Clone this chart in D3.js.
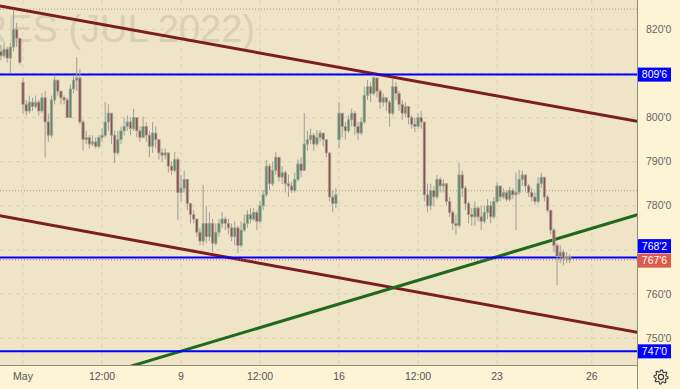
<!DOCTYPE html>
<html><head><meta charset="utf-8">
<script src="https://cdn.jsdelivr.net/npm/d3@7"></script>
<style>html,body{margin:0;padding:0;background:#fff5d8;} svg{display:block}</style>
</head><body><svg id="c" width="680" height="389"></svg>
<script>
// [open, high, low, close] per candle
const ohlc = [
[815,816.5,813,814],[814,817,813.5,815.5],[815.5,816,812.5,813.5],[813.5,817,810,816],[816,824.5,815,820],
[820,821.5,816,818],[818,818,812,812.5],[808,809,801,803],[803,804,800.5,801.5],[801.5,805,801,803.5],
[803.5,804.5,801.5,802.5],[802.5,805,802,803.5],[803.5,804,800.5,801.5],[801.5,805.5,801,804.5],[804.5,806,791,799],
[799,801,794.5,796],[796,805,795.5,804],[804,809.7,803,808.5],[808.5,808.5,805,806],[806,806,803,804.5],
[804.5,805,803,804],[804,804.5,800,800],[800,807.5,800,806.5],[806.5,809.7,805.5,808.5],[808.5,813.7,806,809],
[809,811,798.5,799],[799,799.5,792.5,795],[795,797,794,795.5],[795.5,796,793,794],[794,796,793.5,794.5],
[794.5,795.5,793,793.5],[793.5,796,793,795.5],[795.5,797.5,794.5,796],[796,803.5,795.5,799],[799,803,797,801],
[801,801,794,796],[796,797,789.7,792],[792,797,791.5,795],[795,798,794,797],[797,800,796,798],
[798,800.5,797,799],[799,800,796,797.5],[797.5,802,797,800],[800,800,795.5,797],[797,798,794.5,795.5],
[795.5,800.2,795.5,798],[798,799,794.5,796],[796,797,791,793.5],[793.5,799,792,796.5],[796.5,798,793,795],
[795,795,790.5,792],[792,793,790,791.5],[791.5,793,790.5,792],[792,792,787.5,789],[789,790,787,788],
[788,792.2,787.5,790.5],[790.5,791,776.8,783],[783,787,781,784],[784,788,783,786],[786,786,779,780.5],
[780.5,780.5,776,778],[778,779,776,777],[777,777,773,774],[774,775,771,772],[772,784.7,771,776],
[776,780,771.5,773],[773,778.5,772,776],[776,777,769.5,771.5],[771.5,776,771,774],[774,777,773,776],
[776,778.6,775,777],[777,777.5,774.5,776],[776,777,773.5,775],[775,776,772,773],[773,776.5,771,775],
[775,775.5,769.3,771],[771,776.5,770.5,774.5],[774.5,778,774,776],[776,779,775,778],[778,779.5,776,777],
[777,779.5,776.5,778.5],[778.5,779,774.5,776.5],[776.5,781,776,780],[780,783.6,779,782.5],[782.5,790.4,782,789],
[789,789.5,783.5,785],[785,790,784.5,788],[788,792.2,787,791],[791,791,785.5,786.5],[786.5,789,785,787.5],
[787.5,788,783,785],[785,787,782,784.5],[784.5,785.5,782.9,783.5],[783.5,787.5,783,786],[786,790.5,785.5,789.5],
[789.5,791,786.5,788],[788,801,788,794],[794,797,792.5,795],[795,797.5,794,796],[796,796.5,792.5,794],
[794,797.2,793.5,795.5],[795.5,797.2,794.5,796.5],[796.5,796.5,793.5,795],[795,795,791,792],[792,792,781,782],
[782,783.5,778.5,780.5],[780.5,784,779.5,782.5],[795,803.5,793,801],[801,801,795.5,798],[798,799,795,797],
[797,800.5,796.5,799.5],[799.5,802,798,801],[801,801.5,796,798],[798,799,795,796.5],[796.5,800,796,799],
[799,807,798.5,805],[805,808.5,804,807],[807,808,803.5,805.5],[805.5,809.7,805,809],[809,809,804.5,806],
[806,806.5,802,803.5],[803.5,805.5,802.5,804.5],[804.5,804.5,801.5,803.5],[803.5,804,797.9,801],[801,809,800.5,807],
[807,808,804,805.5],[805.5,806,801.5,803],[803,804,799.5,801],[801,803.5,800,802.5],[802.5,802.5,798.5,800],
[800,800.5,797.5,798.5],[798.5,800,796.7,798],[798,801,797.5,800],[800,801.5,797.5,799],[799,799,781,782.5],
[782.5,785,778.5,780],[780,785,779,783.5],[783.5,784.5,780,782],[782,787,781.5,786],[786,786.5,783,784.5],
[784.5,786,783,785],[785,785,780,781],[781,782,777.5,778.5],[778.5,779,774.5,776],[776,778,773.4,775.5],
[775.5,789.7,775,787],[787,788,782,784],[784,784.5,779,780.5],[780.5,781,776,778],[778,779.5,775.5,777.5],
[777.5,781,775.5,779.5],[779.5,780,776.5,777.5],[777.5,780,774.5,776.5],[776.5,780,776,778.5],[778.5,781.5,777,780],
[780,781,776,777.5],[777.5,782,777,781],[781,785.5,780.5,784.5],[784.5,784.5,781,782],[782,784,781.5,783],
[783,783.5,781,781.5],[781.5,784.3,781,783.5],[783.5,784,781.5,782.5],[782.5,787.5,774.5,783],[783,788.1,782.5,786],
[786,788,784.5,787],[787,787,783,784.5],[784.5,785,782,783],[783,784,781,782],[782,783,780.2,781],
[781,786.5,780.5,785],[785,787.5,784,786.5],[786.5,786.5,781,782],[782,782.5,778.5,779],[779,779,773.5,774.5],
[774.5,775,769.5,771],[771,771.5,762,768.5],[768.5,771,767,769.5],[769.5,770,766.5,768],[768,769.5,767,768.5],
[768.5,769,767,767.75]
];
const yTickValues = [820, 800, 790, 780, 760, 750];
const yGridValues = [750, 760, 770, 780, 790, 800, 810, 820];
const xTickIdx = [7, 32, 57, 82, 107, 132, 157, 187];
const xTickLabels = ["May", "12:00", "9", "12:00", "16", "12:00", "23", "26"];
const levelValues = [809.75, 768.25, 747];
const levelLabels = ["809'6", "768'2", "747'0"];
const lastPrice = 767.75, lastLabel = "767'6";
const dottedLevels = [824.6, 783.4];
// trend lines: [[idx, price],[idx, price]]
const trendRed1 = [[0, 825.27], [200, 799.33]];
const trendRed2 = [[0, 777.7], [200, 751.5]];
const trendGreen = [[40, 743.39], [200, 777.67]];
const watermark = "RES (JUL 2022)";

const W = 680, H = 389, plotR = 637, plotB = 365;
const svg = d3.select("#c");
const x = d3.scaleLinear().domain([0, 180]).range([0.9, 0.9 + 180 * 3.16]);
const y = d3.scaleLinear().domain([750, 820]).range([338.1, 29.4]);

svg.append("rect").attr("width", W).attr("height", H).attr("fill", "#fdf3d5");
svg.append("rect").attr("width", plotR).attr("height", plotB).attr("fill", "#efe5c6");
svg.append("clipPath").attr("id", "clip").append("rect").attr("width", plotR).attr("height", plotB);
const g = svg.append("g").attr("clip-path", "url(#clip)");

// grid
g.selectAll(".hg").data(yGridValues).join("line")
  .attr("x1", 0).attr("x2", plotR).attr("y1", d => y(d)).attr("y2", d => y(d))
  .attr("stroke", "#d6d0bd").attr("stroke-dasharray", "4,4").attr("stroke-width", 1);
g.selectAll(".vg").data(xTickIdx).join("line")
  .attr("y1", 0).attr("y2", plotB).attr("x1", d => x(d)).attr("x2", d => x(d))
  .attr("stroke", "#d6d0bd").attr("stroke-dasharray", "4,4").attr("stroke-width", 1);

// watermark
g.append("text").attr("x", 255).attr("y", 42).attr("text-anchor", "end")
  .attr("font-family", "Liberation Sans, Arial, sans-serif").attr("font-size", 38)
  .attr("fill", "#dad0b5").text(watermark);

// dotted levels
g.selectAll(".dl").data(dottedLevels).join("line")
  .attr("x1", 0).attr("x2", plotR).attr("y1", d => y(d)).attr("y2", d => y(d))
  .attr("stroke", "#a59d8a").attr("stroke-dasharray", "1,2").attr("stroke-width", 1);

// trend lines
const line = d3.line().x(d => x(d[0])).y(d => y(d[1]));
function extend(seg) {
  const [[i0, p0], [i1, p1]] = seg;
  const s = (p1 - p0) / (i1 - i0);
  const a = x.invert(-5), b = x.invert(plotR + 5);
  return [[a, p0 + s * (a - i0)], [b, p0 + s * (b - i0)]];
}
[[trendRed1, "#7c1d22"], [trendRed2, "#7c1d22"], [trendGreen, "#1d6a1d"]].forEach(([t, c]) => {
  g.append("path").attr("d", line(extend(t))).attr("stroke", c).attr("stroke-width", 3).attr("fill", "none");
});

// horizontal levels
g.selectAll(".lv").data(levelValues).join("line")
  .attr("x1", 0).attr("x2", plotR).attr("y1", d => y(d)).attr("y2", d => y(d))
  .attr("stroke", "#0000ff").attr("stroke-width", 2);
g.append("line").attr("x1", 0).attr("x2", plotR).attr("y1", y(lastPrice)).attr("y2", y(lastPrice))
  .attr("stroke", "#e0584c").attr("stroke-dasharray", "1,2").attr("stroke-width", 1);

// candles
const cg = g.append("g");
cg.selectAll(".wk").data(ohlc).join("line")
  .attr("x1", (d, i) => x(i)).attr("x2", (d, i) => x(i))
  .attr("y1", d => y(d[1])).attr("y2", d => y(d[2]))
  .attr("stroke", "#9f9f97").attr("stroke-width", 1);
cg.selectAll(".bd").data(ohlc).join("rect")
  .attr("x", (d, i) => x(i) - 1.2).attr("width", 2.4)
  .attr("y", d => y(Math.max(d[0], d[3])))
  .attr("height", d => Math.max(1, Math.abs(y(d[0]) - y(d[3]))))
  .attr("fill", d => d[3] >= d[0] ? "#5a8e63" : "#925046")
  .attr("stroke", "#a6a69e").attr("stroke-width", 0.8);

// borders
svg.append("line").attr("x1", plotR + 0.5).attr("x2", plotR + 0.5).attr("y1", 0).attr("y2", H)
  .attr("stroke", "#8f8c80").attr("stroke-width", 1);
svg.append("line").attr("x1", 0).attr("x2", plotR).attr("y1", plotB + 0.5).attr("y2", plotB + 0.5)
  .attr("stroke", "#8f8c80").attr("stroke-width", 1);

// y tick labels
svg.selectAll(".yt").data(yTickValues).join("text")
  .attr("x", 646).attr("y", d => y(d) + 3.5)
  .attr("font-family", "Liberation Sans, Arial, sans-serif").attr("font-size", 10.5)
  .attr("fill", "#666").text(d => d + "'0");

// x tick labels
svg.selectAll(".xt").data(xTickIdx).join("text")
  .attr("x", d => x(d)).attr("y", 380).attr("text-anchor", "middle")
  .attr("font-family", "Liberation Sans, Arial, sans-serif").attr("font-size", 10.5)
  .attr("fill", "#555").text((d, i) => xTickLabels[i]);

// price label boxes
const boxes = [
  {v: levelValues[0], t: levelLabels[0], c: "#0000ff", dy: 0},
  {v: levelValues[1], t: levelLabels[1], c: "#0000ff", dy: -11.5},
  {v: lastPrice, t: lastLabel, c: "#dc5a4c", dy: 0.8},
  {v: levelValues[2], t: levelLabels[2], c: "#0000ff", dy: 0}
];
boxes.forEach(b => {
  const cy = y(b.v) + b.dy;
  svg.append("rect").attr("x", 638).attr("y", cy - 7).attr("width", 33).attr("height", 14).attr("fill", b.c);
  svg.append("text").attr("x", 654.5).attr("y", cy + 3.7).attr("text-anchor", "middle")
    .attr("font-family", "Liberation Sans, Arial, sans-serif").attr("font-size", 10.5)
    .attr("fill", "#fff").text(b.t);
});

// gear icon
const gear = svg.append("g").attr("transform", "translate(661,377)");
const teeth = 8, ro = 7, ri = 5.2;
const pts = [];
for (let k = 0; k < teeth * 4; k++) {
  const a = (k / (teeth * 4)) * 2 * Math.PI;
  const r = (k % 4 < 2) ? ro : ri;
  pts.push([r * Math.cos(a), r * Math.sin(a)]);
}
gear.append("path").attr("d", d3.line().curve(d3.curveLinearClosed)(pts))
  .attr("fill", "none").attr("stroke", "#333").attr("stroke-width", 1.1);
gear.append("circle").attr("r", 2.6).attr("fill", "none").attr("stroke", "#333").attr("stroke-width", 1.1);
</script></body></html>
